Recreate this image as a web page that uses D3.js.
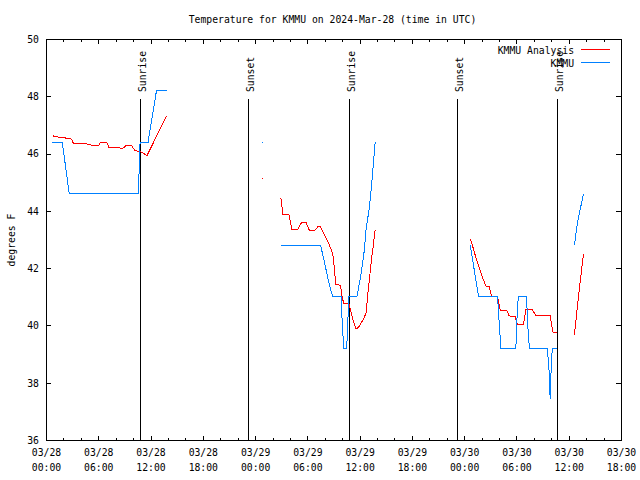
<!DOCTYPE html>
<html>
<head>
<meta charset="utf-8">
<script src="https://cdn.jsdelivr.net/npm/d3@7"></script>
<style>
  html, body { margin: 0; padding: 0; background: #fff; }
  svg { display: block; }
  text { font-family: "DejaVu Sans Mono", "Liberation Mono", monospace; font-size: 9.75px; fill: #000; }
</style>
</head>
<body>
<svg id="chart" width="640" height="480"></svg>
<script>
// ---------------- data ----------------
const chartTitle = "Temperature for KMMU on 2024-Mar-28 (time in UTC)";
const yLabel = "degrees F";
const seriesNames = ["KMMU Analysis", "KMMU"];
const seriesColors = ["#ff0000", "#0080ff"];

const yTicks = [36, 38, 40, 42, 44, 46, 48, 50];
const xDomain = ["03/28 00:00", "03/30 18:00"];
const xMajorTicks = ["03/28 00:00","03/28 06:00","03/28 12:00","03/28 18:00","03/29 00:00","03/29 06:00",
                     "03/29 12:00","03/29 18:00","03/30 00:00","03/30 06:00","03/30 12:00","03/30 18:00"];

const sunEvents = ["Sunrise","Sunset","Sunrise","Sunset","Sunrise"];
const sunTimes = ["03/28 10:46","03/28 23:10","03/29 10:44","03/29 23:12","03/30 10:42"];

// KMMU Analysis (red); null = gap
const analysisTimes = [
  "03/28 00:46","03/28 01:36","03/28 02:22","03/28 02:57","03/28 03:08","03/28 03:54","03/28 04:05",
  "03/28 05:03","03/28 05:14","03/28 06:00","03/28 06:16","03/28 06:57","03/28 07:13","03/28 08:06",
  "03/28 08:51","03/28 09:15","03/28 09:49","03/28 10:12","03/28 10:46","03/28 11:36","03/28 13:50",
  "03/28 18:00",
  "03/29 00:47",
  "03/29 02:00",
  "03/29 02:58","03/29 03:11","03/29 03:53","03/29 04:13","03/29 04:55","03/29 05:18","03/29 05:52",
  "03/29 06:15","03/29 06:49","03/29 07:12","03/29 07:31","03/29 07:58","03/29 08:21","03/29 08:44",
  "03/29 08:55","03/29 09:07","03/29 09:14","03/29 09:48","03/29 10:00","03/29 10:11","03/29 10:45",
  "03/29 11:13","03/29 11:36","03/29 11:59","03/29 12:33","03/29 12:45","03/29 12:56","03/29 13:12",
  "03/29 13:26","03/29 13:35","03/29 13:47",
  "03/29 18:00",
  "03/30 00:42","03/30 00:58","03/30 01:21","03/30 01:44","03/30 02:07","03/30 02:30","03/30 02:53",
  "03/30 03:08","03/30 03:50","03/30 03:57","03/30 04:08","03/30 04:54","03/30 05:10","03/30 05:51",
  "03/30 06:07","03/30 06:48","03/30 07:05","03/30 07:50","03/30 08:14","03/30 09:52","03/30 10:03",
  "03/30 10:12","03/30 10:42",
  "03/30 11:30",
  "03/30 12:39","03/30 13:10","03/30 13:41"
];
const analysisTemps = [
  46.62,46.56,46.54,46.50,46.36,46.36,46.34,
  46.33,46.27,46.27,46.40,46.40,46.22,46.20,
  46.19,46.29,46.29,46.10,46.08,45.93,47.32,
  null,
  45.16,
  null,
  44.45,43.87,43.87,43.35,43.35,43.58,43.58,
  43.31,43.31,43.44,43.44,43.15,42.94,42.65,
  42.48,41.98,41.43,41.40,40.97,40.77,40.77,
  40.21,39.87,39.98,40.29,40.45,41.09,41.84,
  42.48,42.83,43.35,
  null,
  43.02,42.77,42.36,42.01,41.66,41.37,41.35,
  41.03,41.01,40.80,40.53,40.51,40.33,40.31,
  40.04,40.02,40.54,40.54,40.35,40.35,39.98,
  39.75,39.75,
  null,
  39.67,41.14,42.48
];

// KMMU observations (blue); null = gap
const obsTimes = [
  "03/28 00:43","03/28 01:52","03/28 02:40","03/28 10:36","03/28 10:48","03/28 11:43","03/28 12:41","03/28 13:50",
  "03/28 18:00",
  "03/29 00:47",
  "03/29 02:00",
  "03/29 02:56","03/29 07:31","03/29 07:58","03/29 08:32","03/29 08:55","03/29 09:53","03/29 10:00",
  "03/29 10:11","03/29 10:31","03/29 10:38","03/29 10:45","03/29 11:41","03/29 12:10","03/29 12:33",
  "03/29 12:45","03/29 13:07","03/29 13:26","03/29 13:47",
  "03/29 18:00",
  "03/30 00:42","03/30 01:39","03/30 03:50","03/30 04:01","03/30 04:13","03/30 05:56","03/30 06:07",
  "03/30 06:14","03/30 07:09","03/30 07:23","03/30 07:32","03/30 09:33","03/30 09:45","03/30 09:49",
  "03/30 09:52","03/30 10:01","03/30 10:08","03/30 10:42",
  "03/30 11:30",
  "03/30 12:39","03/30 13:00","03/30 13:41"
];
const obsTemps = [
  46.4,46.4,44.6,44.6,46.4,46.4,48.2,48.2,
  null,
  46.4,
  null,
  42.8,42.8,42.2,41.4,41.0,41.0,40.1,
  39.2,39.2,40.0,41.0,41.0,41.8,42.65,
  43.4,44.1,45.1,46.4,
  null,
  42.8,41.0,41.0,40.1,39.2,39.2,40.68,
  41.0,41.0,39.52,39.2,39.2,38.4,37.9,
  37.43,38.8,39.2,39.2,
  null,
  42.8,43.58,44.59
];

// ---------------- chart ----------------
const parse = d3.utcParse("%m/%d %H:%M");
const svg = d3.select("#chart").attr("shape-rendering", "crispEdges");

const x = d3.scaleUtc().domain(xDomain.map(parse)).range([46, 621]);
const y = d3.scaleLinear().domain([36, 50]).range([440, 39]);

const majors = xMajorTicks.map(parse);
const minors = d3.utcHour.every(2).range(parse(xDomain[0]), d3.utcMinute.offset(parse(xDomain[1]), 1))
  .filter(d => d.getUTCHours() % 6 !== 0);

function cleanAxis(g) { g.select(".domain").remove(); g.selectAll("line").attr("stroke", "#000"); }

// bottom ticks (inward)
svg.append("g").attr("transform", "translate(0,440)")
  .call(d3.axisBottom(x).tickValues(majors).tickSize(-4).tickFormat(""))
  .call(cleanAxis);
svg.append("g").attr("transform", "translate(0,440)")
  .call(d3.axisBottom(x).tickValues(minors).tickSize(-2).tickFormat(""))
  .call(cleanAxis);
// top ticks (mirrored, inward)
svg.append("g").attr("transform", "translate(0,40)")
  .call(d3.axisTop(x).tickValues(majors).tickSize(-4).tickFormat(""))
  .call(cleanAxis);
svg.append("g").attr("transform", "translate(0,40)")
  .call(d3.axisTop(x).tickValues(minors).tickSize(-2).tickFormat(""))
  .call(cleanAxis);

// y axes
const yLeft = svg.append("g").attr("transform", "translate(46,0)")
  .call(d3.axisLeft(y).tickValues(yTicks).tickSize(-5).tickPadding(7).tickFormat(d3.format("d")))
  .call(cleanAxis);
yLeft.attr("font-family", null).attr("font-size", null);
yLeft.selectAll("text").attr("fill", "#000").attr("dy", "0.35em");
svg.append("g").attr("transform", "translate(621,0)")
  .call(d3.axisRight(y).tickValues(yTicks).tickSize(-5).tickFormat(""))
  .call(cleanAxis);

// x tick labels (two lines)
const xl = svg.append("g").selectAll("text").data(majors).join("text")
  .attr("text-anchor", "middle")
  .attr("x", d => x(d) + 0.5);
xl.append("tspan").attr("y", 456).attr("x", d => x(d) + 0.5).text(d3.utcFormat("%m/%d"));
xl.append("tspan").attr("y", 471).attr("x", d => x(d) + 0.5).text(d3.utcFormat("%H:%M"));

// border
svg.append("rect").attr("x", 46.5).attr("y", 39.5).attr("width", 575).attr("height", 401)
  .attr("fill", "none").attr("stroke", "#000");

// sunrise / sunset
sunTimes.forEach((t, i) => {
  const xs = Math.round(x(parse(t))) + 0.5;
  svg.append("line").attr("x1", xs).attr("x2", xs).attr("y1", 99).attr("y2", 440)
    .attr("stroke", "#000");
  svg.append("text").attr("transform", `translate(${xs + 5},92) rotate(-90)`)
    .attr("text-anchor", "start").text(sunEvents[i]);
});

// series
function makeData(times, temps) {
  return times.map((t, i) => ({ t: parse(t), v: temps[i] }));
}
const series = [makeData(analysisTimes, analysisTemps), makeData(obsTimes, obsTemps)];
const line = d3.line().defined(d => d.v != null).x(d => x(d.t)).y(d => y(d.v));

series.forEach((data, si) => {
  svg.append("path").datum(data).attr("d", line)
    .attr("fill", "none").attr("stroke", seriesColors[si]).attr("stroke-width", 1);
  // isolated points
  const iso = data.filter((d, i) => d.v != null &&
    (i === 0 || data[i - 1].v == null) && (i === data.length - 1 || data[i + 1].v == null));
  svg.append("g").selectAll("rect").data(iso).join("rect")
    .attr("x", d => Math.round(x(d.t))).attr("y", d => Math.round(y(d.v)))
    .attr("width", 1).attr("height", 1).attr("fill", seriesColors[si]);
});

// legend
seriesNames.forEach((name, i) => {
  const ly = 49 + i * 13;
  svg.append("text").attr("x", 574).attr("y", ly + 4.5).attr("text-anchor", "end").text(name);
  svg.append("line").attr("x1", 581).attr("x2", 610).attr("y1", ly + 0.5).attr("y2", ly + 0.5)
    .attr("stroke", seriesColors[i]);
});

// title & y label
svg.append("text").attr("x", 332.5).attr("y", 22.5).attr("text-anchor", "middle").text(chartTitle);
svg.append("text").attr("transform", "translate(15,240) rotate(-90)").attr("text-anchor", "middle").text(yLabel);
</script>
</body>
</html>
